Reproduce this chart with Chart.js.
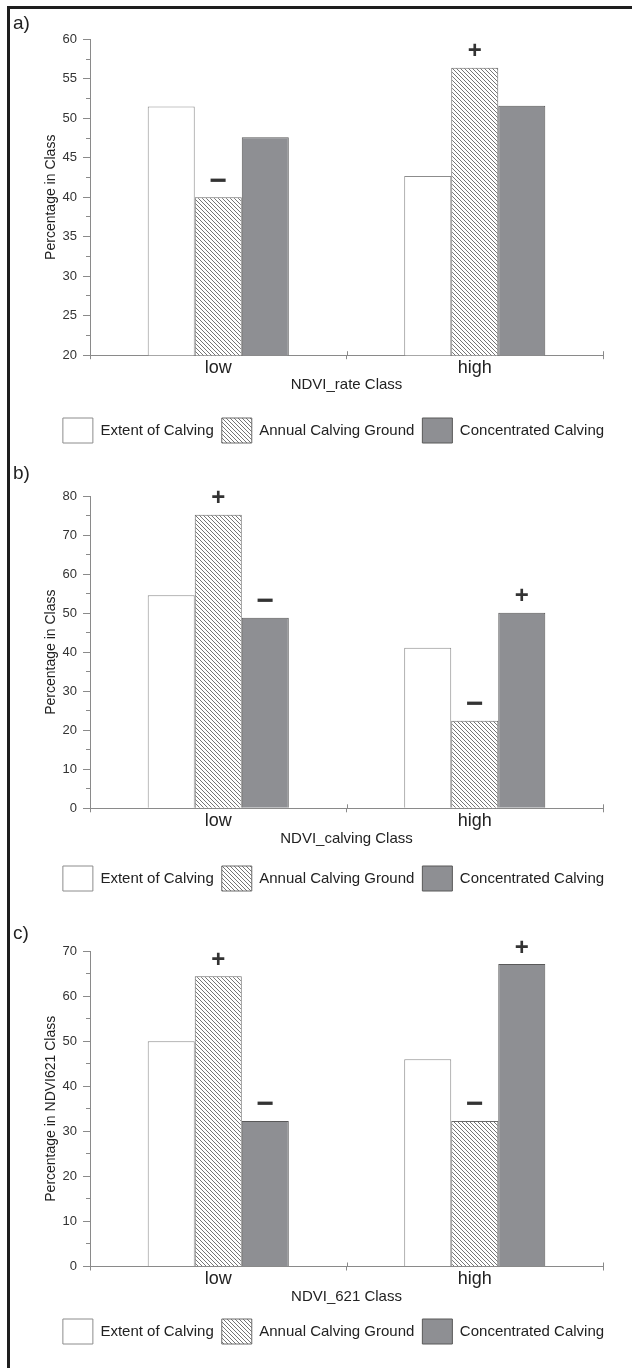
<!DOCTYPE html>
<html>
<head>
<meta charset="utf-8">
<script src="https://cdn.jsdelivr.net/npm/chart.js@4.4.1/dist/chart.umd.min.js"></script>
<style>
  html, body { margin: 0; padding: 0; background: #fff; overflow: hidden; }
  body { width: 632px; height: 1368px; position: relative; font-family: "Liberation Sans", Arial, sans-serif; }
  #frame { position: absolute; left: 7px; top: 6px; width: 640px; height: 1400px;
           border-top: 3px solid #1e1e1e; border-left: 3px solid #1e1e1e; }
  canvas { position: absolute; left: 0; }
  .tag { position: absolute; left: 13px; font-size: 19px; line-height: 1; color: #222; }
</style>
</head>
<body>
<div id="frame"></div>
<canvas id="chartA" width="632" height="453" style="top:0px"></canvas>
<canvas id="chartB" width="632" height="441" style="top:460px"></canvas>
<canvas id="chartC" width="632" height="454" style="top:900px"></canvas>
<div class="tag" style="top:13px">a)</div>
<div class="tag" style="top:463px">b)</div>
<div class="tag" style="top:923px">c)</div>
<script>
// categories and series
const categories = ['low', 'high'];
const seriesNames = ['Extent of Calving', 'Annual Calving Ground', 'Concentrated Calving'];

// a) NDVI_rate
const extentA = [51.5, 42.7];
const annualA = [40.0, 56.4];
const concA = [47.6, 51.6];
const signsA = [['', ''], ['−', '+'], ['', '']];
const ticksA = [20, 60, 5]; // min, max, labelled step

// b) NDVI_calving
const extentB = [54.6, 41.1];
const annualB = [75.2, 22.4];
const concB = [48.8, 50.1];
const signsB = [['', ''], ['+', '−'], ['−', '+']];
const ticksB = [0, 80, 10];

// c) NDVI_621
const extentC = [50.0, 46.0];
const annualC = [64.4, 32.3];
const concC = [32.3, 67.1];
const signsC = [['', ''], ['+', '−'], ['−', '+']];
const ticksC = [0, 70, 10];

Chart.defaults.font.family = '"Liberation Sans", Arial, sans-serif';

const axisGrey = '#8a8a8a';

function makeHatch() {
  const c = document.createElement('canvas');
  c.width = 4; c.height = 4;
  const g = c.getContext('2d');
  g.fillStyle = '#fff';
  g.fillRect(0, 0, 4, 4);
  g.fillStyle = '#757575';
  for (let i = 0; i < 4; i++) g.fillRect(i, i, 1, 1);
  return g.createPattern(c, 'repeat');
}
const hatch = makeHatch();

// draws the +/- marks above the bars
const signPlugin = {
  id: 'signs',
  afterDatasetsDraw(chart, args, opts) {
    const ctx = chart.ctx;
    ctx.save();
    ctx.fillStyle = '#333';
    ctx.textAlign = 'center';
    ctx.textBaseline = 'middle';
    opts.marks.forEach((row, d) => {
      const meta = chart.getDatasetMeta(d);
      row.forEach((s, i) => {
        if (!s) return;
        const bar = meta.data[i];
        ctx.font = s === '+' ? 'bold 24px "Liberation Sans"' : 'bold 30px "Liberation Sans"';
        ctx.fillText(s, bar.x, bar.y - 16);
      });
    });
    ctx.restore();
  }
};

// category ticks also poke a little above the x axis
const crossTicks = {
  id: 'crossTicks',
  afterDraw(chart) {
    const xs = chart.scales.x;
    const ctx = chart.ctx;
    const step = xs.width / categories.length;
    ctx.save();
    ctx.strokeStyle = axisGrey;
    ctx.lineWidth = 1;
    ctx.beginPath();
    for (let k = 1; k <= categories.length; k++) {
      const px = Math.round(xs.left + k * step) + 0.5;
      ctx.moveTo(px, xs.top - 4);
      ctx.lineTo(px, xs.top);
    }
    ctx.stroke();
    ctx.restore();
  }
};

function buildPanel(id, p) {
  const [ymin, ymax, step] = p.ticks;
  new Chart(document.getElementById(id), {
    type: 'bar',
    data: {
      labels: categories,
      datasets: [
        { label: seriesNames[0], data: p.extent, backgroundColor: '#ffffff', borderColor: '#8c8c8c', borderWidth: 1 },
        { label: seriesNames[1], data: p.annual, backgroundColor: hatch, borderColor: '#6a6a6a', borderWidth: 1 },
        { label: seriesNames[2], data: p.conc, backgroundColor: '#8e8f93', borderColor: '#595959', borderWidth: 1 }
      ]
    },
    options: {
      responsive: false,
      animation: false,
      layout: { padding: { left: 35, right: 0, top: p.padTop, bottom: 0 } },
      datasets: { bar: { categoryPercentage: 0.55, barPercentage: 1, xAxisID: 'x', yAxisID: 'y' } },
      plugins: {
        legend: {
          position: 'bottom',
          labels: { color: '#222', font: { size: 15 }, boxWidth: 30, boxHeight: 25, padding: 8 }
        },
        tooltip: { enabled: false },
        signs: { marks: p.signs }
      },
      scales: {
        x: {
          grid: { offset: true, drawOnChartArea: false, tickLength: 4, color: axisGrey },
          border: { color: axisGrey },
          ticks: { color: '#222', font: { size: 18 }, padding: -2 },
          title: { display: true, text: p.xTitle, color: '#222', font: { size: 15 },
                   padding: { top: 0, bottom: p.xTitlePad } },
          afterFit: s => { s.height = p.xAxisH; }
        },
        // short minor ticks, sits right against the plot
        yMinor: {
          position: 'left',
          min: ymin, max: ymax,
          ticks: { display: false, stepSize: step / 2 },
          grid: { drawOnChartArea: false, tickLength: 4, color: axisGrey },
          border: { display: false },
          afterFit: s => { s.width = 0; }
        },
        y: {
          position: 'left',
          min: ymin, max: ymax,
          ticks: { stepSize: step, color: '#333', font: { size: 13 }, padding: 6 },
          grid: { drawOnChartArea: false, tickLength: 7, color: axisGrey },
          border: { color: axisGrey },
          title: { display: true, text: p.yTitle, color: '#222', font: { size: 14 },
                   padding: { top: 8, bottom: 0 } },
          afterFit: s => { s.width = 55; }
        },
        yRight: {
          position: 'right',
          ticks: { display: false },
          grid: { display: false },
          border: { display: false },
          afterFit: s => { s.width = 29; }
        }
      }
    },
    plugins: [signPlugin, crossTicks]
  });
}

buildPanel('chartA', {
  extent: extentA, annual: annualA, conc: concA, signs: signsA, ticks: ticksA,
  xTitle: 'NDVI_rate Class', yTitle: 'Percentage in Class',
  padTop: 39.3, xAxisH: 54.8, xTitlePad: 16.5
});
buildPanel('chartB', {
  extent: extentB, annual: annualB, conc: concB, signs: signsB, ticks: ticksB,
  xTitle: 'NDVI_calving Class', yTitle: 'Percentage in Class',
  padTop: 36, xAxisH: 49.7, xTitlePad: 10.5
});
buildPanel('chartC', {
  extent: extentC, annual: annualC, conc: concC, signs: signsC, ticks: ticksC,
  xTitle: 'NDVI_621 Class', yTitle: 'Percentage in NDVI621 Class',
  padTop: 51, xAxisH: 44.5, xTitlePad: 5.5
});
</script>
</body>
</html>
